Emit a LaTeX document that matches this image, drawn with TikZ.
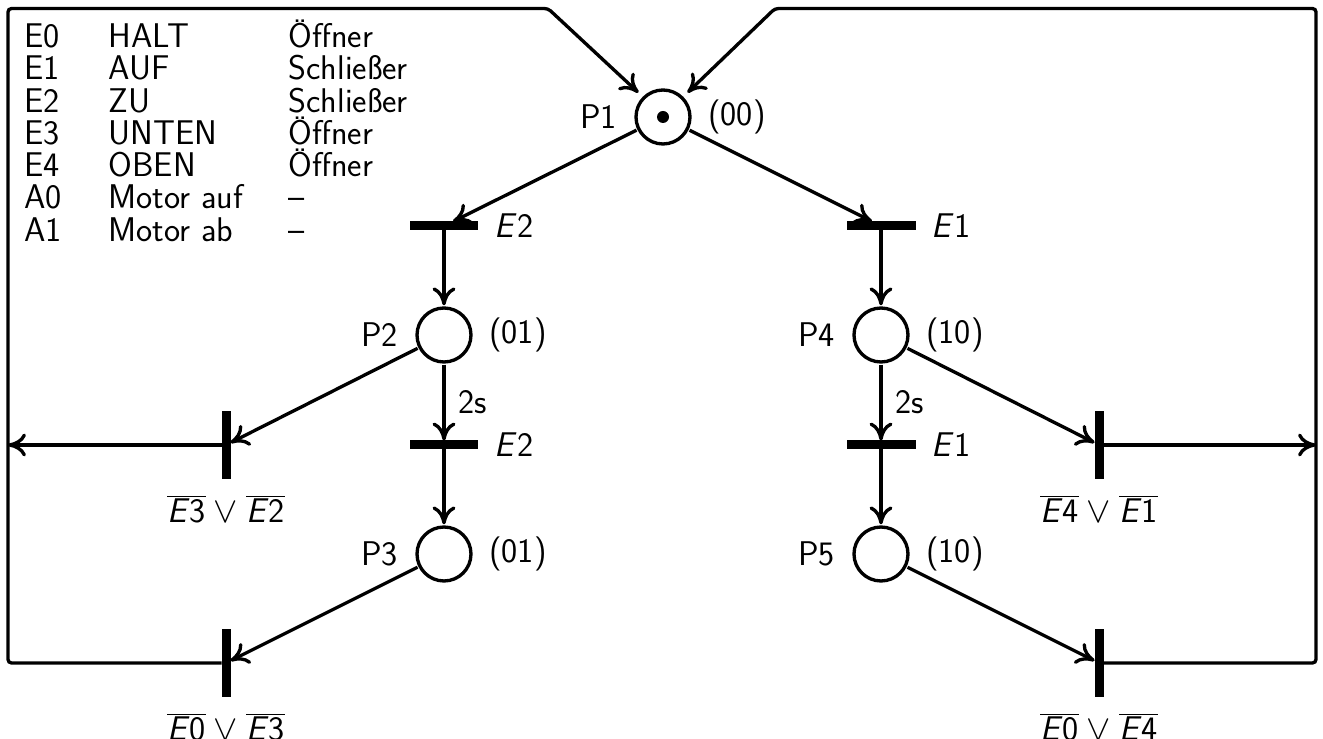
\documentclass[tikz,border=0pt]{standalone}
\usetikzlibrary{arrows.meta}
\renewcommand{\familydefault}{\sfdefault}
\newcommand{\Ei}[1]{\textit{E}#1}
\newcommand{\nE}[1]{\overline{\hbox{\Ei{#1}}}}
\begin{document}
\begin{tikzpicture}[x=0.02cm,y=-0.02cm, line width=1.9pt,
  >={Computer Modern Rightarrow[length=3.6mm,width=4.6mm]},
  every node/.style={font=\fontsize{19.5}{23}\selectfont},
  place/.style={circle,draw,minimum size=1.08cm,inner sep=0pt,outer sep=1.5pt},
  token/.style={circle,fill,minimum size=0.24cm,inner sep=0pt},
  hbar/.style={fill,draw=none,minimum width=1.38cm,minimum height=0.18cm,inner sep=0pt,outer sep=0pt},
  vbar/.style={fill,draw=none,minimum width=0.18cm,minimum height=1.38cm,inner sep=0pt,outer sep=0pt},
  lbl/.style={inner sep=0pt},
  leg/.style={inner sep=0pt,anchor=base west}]
\useasboundingbox (0,0) rectangle (1323,739);

% legend
\foreach \a/\b/\c [count=\i from 0] in {E0/HALT/Öffner,E1/AUF/Schließer,E2/ZU/Schließer,E3/UNTEN/Öffner,E4/OBEN/Öffner,A0/Motor auf/--,A1/Motor ab/--}{
  \node[leg] (la\i) at (22.7,47.5+32.3*\i) {\a};
  \node[leg] (lb\i) at (107,47.5+32.3*\i) {\b};
  \node[leg] (lc\i) at (287,47.5+32.3*\i) {\c};
}

% places
\node[place] (P1) at (663,117) {};
\node[token] (tok) at (P1) {};
\node[place] (P2) at (444,335) {};
\node[place] (P3) at (444,554) {};
\node[place] (P4) at (881,335) {};
\node[place] (P5) at (881,554) {};

% transitions
\node[hbar] (T1) at (444,226) {};
\node[hbar] (T2) at (881,226) {};
\node[hbar] (T3) at (444,445) {};
\node[hbar] (T4) at (881,445) {};
\node[vbar] (T5) at (226,445) {};
\node[vbar] (T6) at (226,663) {};
\node[vbar] (T7) at (1099,445) {};
\node[vbar] (T8) at (1099,663) {};

% place labels
\node[lbl,anchor=east,xshift=-0.3cm] (lP1) at (P1.west) {P1};
\node[lbl,anchor=west,xshift=0.28cm] (mP1) at (P1.east) {(00)};
\node[lbl,anchor=east,xshift=-0.3cm] (lP2) at (P2.west) {P2};
\node[lbl,anchor=west,xshift=0.28cm] (mP2) at (P2.east) {(01)};
\node[lbl,anchor=east,xshift=-0.3cm] (lP3) at (P3.west) {P3};
\node[lbl,anchor=west,xshift=0.28cm] (mP3) at (P3.east) {(01)};
\node[lbl,anchor=east,xshift=-0.3cm] (lP4) at (P4.west) {P4};
\node[lbl,anchor=west,xshift=0.28cm] (mP4) at (P4.east) {(10)};
\node[lbl,anchor=east,xshift=-0.3cm] (lP5) at (P5.west) {P5};
\node[lbl,anchor=west,xshift=0.28cm] (mP5) at (P5.east) {(10)};

% transition labels
\node[lbl,anchor=west,xshift=0.29cm] (lT1) at (T1.east) {\Ei{2}};
\node[lbl,anchor=west,xshift=0.29cm] (lT2) at (T2.east) {\Ei{1}};
\node[lbl,anchor=west,xshift=0.29cm] (lT3) at (T3.east) {\Ei{2}};
\node[lbl,anchor=west,xshift=0.29cm] (lT4) at (T4.east) {\Ei{1}};
\node[lbl,anchor=north,yshift=-0.28cm] (lT5) at (T5.south) {$\nE{3}\vee\nE{2}$};
\node[lbl,anchor=north,yshift=-0.28cm] (lT6) at (T6.south) {$\nE{0}\vee\nE{3}$};
\node[lbl,anchor=north,yshift=-0.28cm] (lT7) at (T7.south) {$\nE{4}\vee\nE{1}$};
\node[lbl,anchor=north,yshift=-0.28cm] (lT8) at (T8.south) {$\nE{0}\vee\nE{4}$};

% arcs
\draw[->] (P1) -- (T1);
\draw[->] (P1) -- (T2);
\draw[->] (T1) -- (P2);
\draw[->] (T2) -- (P4);
\draw[->] (P2) -- node[lbl,right=0.26cm] {2s} (T3);
\draw[->] (P4) -- node[lbl,right=0.26cm] {2s} (T4);
\draw[->] (T3) -- (P3);
\draw[->] (T4) -- (P5);
\draw[->] (P2) -- (T5);
\draw[->] (P3) -- (T6);
\draw[->] (P4) -- (T7);
\draw[->] (P5) -- (T8);

% return paths
\coordinate (L1) at (8,445);
\coordinate (R1) at (1316,445);
\coordinate (LB) at (8,663);
\coordinate (LT) at (8,8.5);
\coordinate (LE) at (548,8.5);
\coordinate (RB) at (1316,663);
\coordinate (RT) at (1316,8.5);
\coordinate (RE) at (775,8.5);
\draw[->] (T5) -- (L1);
\draw[->] (T7) -- (R1);
\draw[->,rounded corners=2pt,shorten >=0.1cm] (T6) -- (LB) -- (LT) -- (LE) -- (P1.135);
\draw[->,rounded corners=2pt,shorten >=0.1cm] (T8) -- (RB) -- (RT) -- (RE) -- (P1.45);
\end{tikzpicture}
\end{document}
